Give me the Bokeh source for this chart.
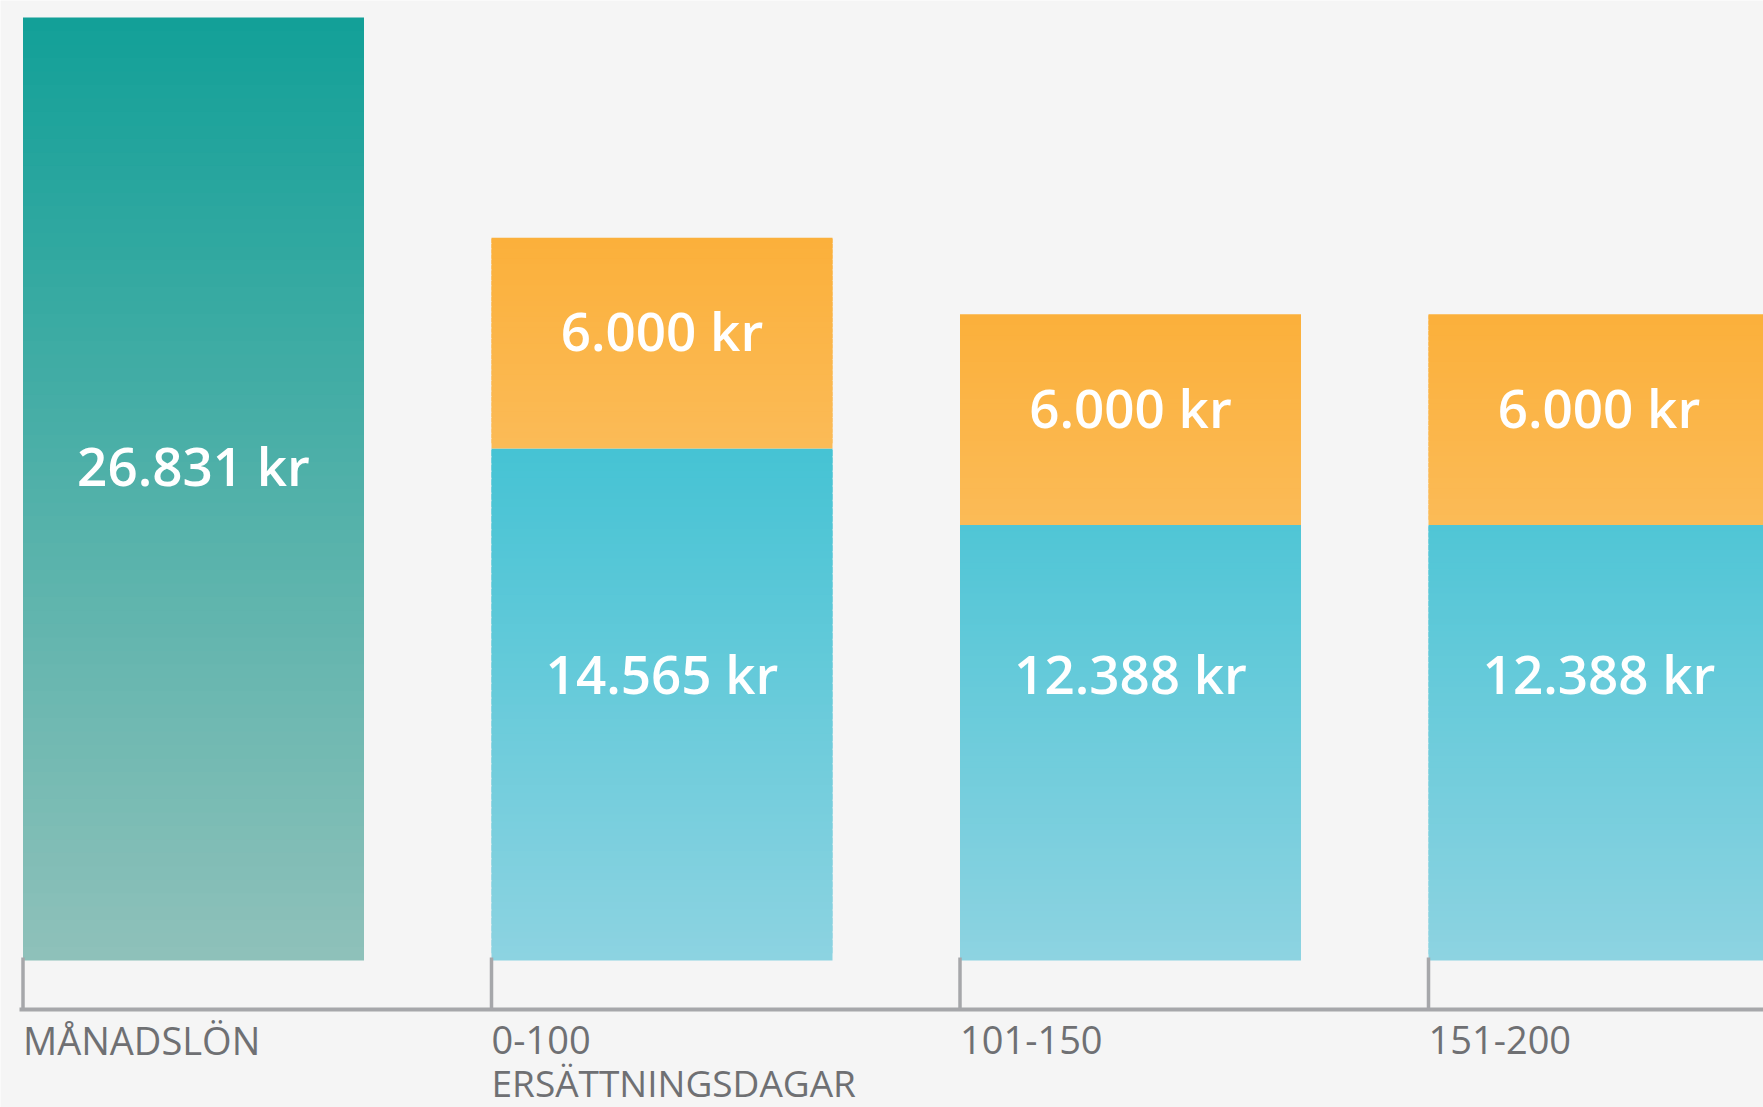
import numpy as np
from bokeh.plotting import figure
from bokeh.models import Range1d
from bokeh.core.properties import value
from bokeh.embed import file_html
from bokeh.resources import INLINE

# ---------------- data ----------------
categories = ["MÅNADSLÖN", "0-100", "101-150", "151-200"]
category_subtitles = ["", "ERSÄTTNINGSDAGAR", "", ""]
base_values = [26831, 14565, 12388, 12388]      # salary / a-kassa
top_values = [0, 6000, 6000, 6000]              # extra insurance

# ---------------- layout constants (pixel geometry) ----------------
W, H = 1763, 1107
BASE_PX = 960.0                      # y pixel of value 0
PX_PER_KR = (960.0 - 17.0) / 26831.0
X0_PX = 22.5                          # x pixel of first bar's left edge
PERIOD_PX = 468.5
BAR_W = 341.0 / PERIOD_PX


def ky(py):
    return (BASE_PX - py) / PX_PER_KR


def kx(px):
    return (px - X0_PX) / PERIOD_PX


p = figure(width=W, height=H,
           x_range=Range1d(kx(0), kx(W)),
           y_range=Range1d(ky(H), ky(0)),
           x_axis_type=None, y_axis_type=None,
           output_backend="svg", toolbar_location=None, min_border=0,
           background_fill_color="#f5f5f5", border_fill_color="#f5f5f5",
           outline_line_color=None)
p.grid.visible = False


def h2rgb(h):
    h = h.lstrip("#")
    return np.array([int(h[i:i + 2], 16) for i in (0, 2, 4)], dtype=float)


def rgb2h(c):
    c = np.clip(np.round(c), 0, 255).astype(int)
    return "#%02x%02x%02x" % tuple(c)


def mix(c_a, c_b, t):
    return rgb2h(h2rgb(c_a) * (1 - t) + h2rgb(c_b) * t)


L, R, B, T, C = [], [], [], [], []


def add_gradient(left, right, y0, y1, color_fn, n=70):
    hgt = (y1 - y0) / n
    for k in range(n):
        b = y0 + k * hgt
        t = min(y1, y0 + (k + 1.8) * hgt)
        mid = y0 + (k + 0.5) * hgt
        L.append(left); R.append(right); B.append(b); T.append(t)
        C.append(color_fn(mid))


TEAL_TOP, TEAL_BOT = "#12a098", "#8fc1ba"
CYAN_TOP, CYAN_BOT = "#45c3d4", "#8dd3e1"
ORNG_TOP, ORNG_BOT = "#fbb03b", "#fbbb57"

cyan_max = max(base_values[1:])
for i, (bv, tv) in enumerate(zip(base_values, top_values)):
    left, right = i, i + BAR_W
    if i == 0:
        add_gradient(left, right, 0, bv, lambda y, bv=bv: mix(TEAL_BOT, TEAL_TOP, y / bv))
    else:
        add_gradient(left, right, 0, bv, lambda y: mix(CYAN_BOT, CYAN_TOP, y / cyan_max))
        if tv > 0:
            add_gradient(left, right, bv, bv + tv,
                         lambda y, bv=bv, tv=tv: mix(ORNG_BOT, ORNG_TOP, (y - bv) / tv), n=40)

p.quad(left=L, right=R, bottom=B, top=T, fill_color=C, line_color=None)


def fmt(v):
    return f"{v:,}".replace(",", ".") + " kr"


# value labels
lab_x, lab_y, lab_t = [], [], []
for i, (bv, tv) in enumerate(zip(base_values, top_values)):
    cx = i + BAR_W / 2
    if i == 0:
        lab_x.append(cx); lab_y.append(bv * 0.525); lab_t.append(fmt(bv))
    else:
        lab_x.append(cx); lab_y.append(cyan_max * 0.56); lab_t.append(fmt(bv))
        if tv > 0:
            lab_x.append(cx); lab_y.append(bv + tv * 0.56); lab_t.append(fmt(tv))

p.text(x=lab_x, y=lab_y, text=lab_t, text_color="white",
       text_font=value("Open Sans SemiBold, Open Sans"), text_font_size="53px",
       text_font_style="normal",
       text_align="center", text_baseline="middle")

# category axis (drawn by hand)
AX_COLOR = "#a6a7aa"
idx = list(range(len(categories)))
p.segment(x0=[kx(19)], x1=[kx(W)], y0=[ky(1009)], y1=[ky(1009)],
          line_color=AX_COLOR, line_width=4)
p.segment(x0=idx, x1=idx, y0=[ky(1009)] * len(idx), y1=[ky(957)] * len(idx),
          line_color=AX_COLOR, line_width=3.5)

p.text(x=idx, y=[ky(1039)] * len(idx), text=categories, text_color="#6f7073",
       text_font=value("Open Sans"), text_font_size="38px",
       text_align="left", text_baseline="alphabetic")
p.text(x=idx, y=[ky(1082)] * len(idx), text=category_subtitles, text_color="#6f7073",
       text_font=value("Open Sans"), text_font_size="37px",
       text_align="left", text_baseline="alphabetic")

open("out.html", "w").write(file_html(p, INLINE))
